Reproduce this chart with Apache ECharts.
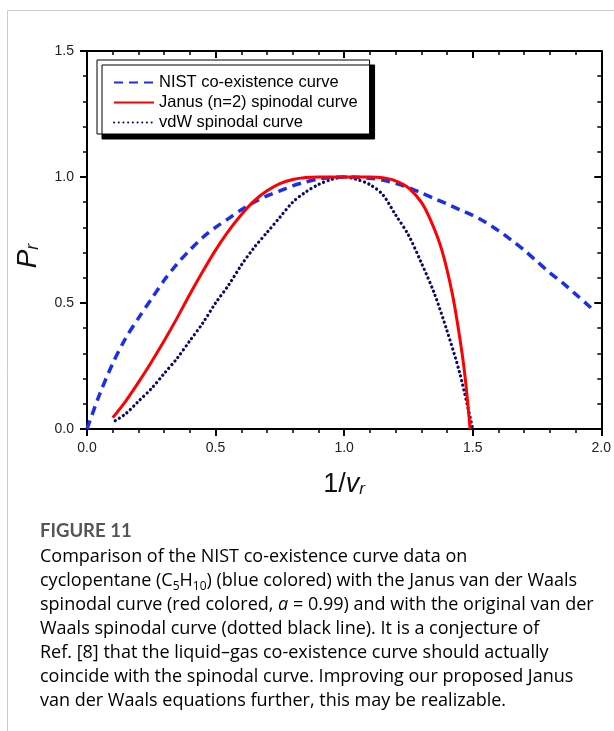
<!DOCTYPE html>
<html lang="en">
<head>
    <meta charset="UTF-8">
    <title>Figure 11</title>
    <script src="https://cdn.jsdelivr.net/npm/echarts@6/dist/echarts.min.js"></script>
    <style>
        html, body { margin: 0; padding: 0; background: #fff; }
        #chart { width: 614px; height: 731px; }
    </style>
</head>
<body>
<div id="chart"></div>
<script>
    // NIST co-existence curve
    const nistX = [0, 0.05, 0.1, 0.15, 0.2, 0.25, 0.3, 0.35, 0.4, 0.45, 0.5, 0.55, 0.6, 0.65, 0.7, 0.75, 0.8, 0.85, 0.9, 0.95, 1.0,
        1.05, 1.1, 1.15, 1.2, 1.25, 1.3, 1.35, 1.4, 1.45, 1.5, 1.55, 1.6, 1.65, 1.7, 1.75, 1.8, 1.85, 1.9, 1.95, 1.97];
    const nistP = [0, 0.14, 0.26, 0.36, 0.44, 0.515, 0.59, 0.655, 0.71, 0.76, 0.80, 0.835, 0.87, 0.90, 0.925, 0.945, 0.965, 0.98, 0.992, 0.998, 1.0,
        0.999, 0.995, 0.988, 0.975, 0.958, 0.937, 0.915, 0.893, 0.87, 0.848, 0.82, 0.787, 0.75, 0.71, 0.665, 0.62, 0.58, 0.535, 0.49, 0.47];

    // Janus (n=2) spinodal curve
    const janusX = [0.1, 0.15, 0.2, 0.25, 0.3, 0.35, 0.4, 0.45, 0.5, 0.55, 0.6, 0.65, 0.7, 0.75, 0.8, 0.85, 0.9, 1.0, 1.1, 1.15,
        1.2, 1.25, 1.3, 1.34, 1.38, 1.42, 1.45, 1.47, 1.49];
    const janusP = [0.045, 0.11, 0.185, 0.265, 0.35, 0.44, 0.535, 0.625, 0.71, 0.785, 0.85, 0.905, 0.945, 0.974, 0.99, 0.998, 1.0, 1.0, 1.0, 0.997,
        0.985, 0.957, 0.90, 0.82, 0.71, 0.54, 0.36, 0.21, 0.0];

    // vdW spinodal curve
    const vdwX = [0.11, 0.15, 0.2, 0.25, 0.3, 0.35, 0.4, 0.45, 0.5, 0.55, 0.6, 0.65, 0.7, 0.75, 0.8, 0.85, 0.9, 0.95, 1.0,
        1.05, 1.1, 1.15, 1.2, 1.25, 1.3, 1.35, 1.4, 1.45, 1.5];
    const vdwP = [0.033, 0.06, 0.11, 0.16, 0.22, 0.28, 0.35, 0.42, 0.50, 0.57, 0.65, 0.72, 0.78, 0.84, 0.90, 0.94, 0.97, 0.99, 1.0,
        0.99, 0.97, 0.93, 0.85, 0.77, 0.66, 0.54, 0.39, 0.22, 0.0];

    const seriesNames = ['NIST co-existence curve', 'Janus (n=2) spinodal curve', 'vdW spinodal curve'];

    const captionTitle = 'FIGURE 11';
    const captionLines = [
        '{t|Comparison of the NIST co-existence curve data on}',
        '{t|cyclopentane (C}{s|5}{t|H}{s|10}{t|) (blue colored) with the Janus van der Waals}',
        '{t|spinodal curve (red colored, }{i|a}{t| = 0.99) and with the original van der}',
        '{t|Waals spinodal curve (dotted black line). It is a conjecture of}',
        '{t|Ref. [}{l|8}{t|] that the liquid\u2013gas co-existence curve should actually}',
        '{t|coincide with the spinodal curve. Improving our proposed Janus}',
        '{t|van der Waals equations further, this may be realizable.}'
    ];

    function pairs(xs, ys) {
        return xs.map(function (x, i) { return [x, ys[i]]; });
    }

    let chart = echarts.init(document.getElementById('chart'));

    const tickFont = { color: '#222', fontSize: 14, fontFamily: 'Liberation Sans, Arial, sans-serif' };

    function axisBase(pos, showLabel, inside, min, max, margin) {
        return {
            type: 'value',
            position: pos,
            min: min,
            max: max,
            interval: 0.5,
            axisLine: { show: true, onZero: false, lineStyle: { color: '#000', width: 2 } },
            axisTick: { show: true, inside: inside, length: 7, lineStyle: { color: '#000', width: 2 } },
            minorTick: { show: true, splitNumber: 5, length: 4, lineStyle: { color: '#000', width: 1.5 } },
            splitLine: { show: false },
            minorSplitLine: { show: false },
            axisLabel: Object.assign({ show: showLabel, margin: margin, formatter: function (v) { return v.toFixed(1); } }, tickFont)
        };
    }

    const capFont = 'Open Sans, sans-serif';
    const captionText = {
        t: { fontSize: 18, fontFamily: capFont, color: '#6a6a6a', lineHeight: 24 },
        s: { fontSize: 12, fontFamily: capFont, color: '#6a6a6a', lineHeight: 24, verticalAlign: 'bottom' },
        i: { fontSize: 18, fontFamily: capFont, fontStyle: 'italic', color: '#6a6a6a', lineHeight: 24 },
        l: { fontSize: 18, fontFamily: capFont, color: '#4b4bb0', lineHeight: 24 }
    };

    let graphics = [
        {
            type: 'rect',
            silent: true,
            shape: { x: 7.5, y: 10.5, width: 700, height: 800 },
            style: { fill: 'none', stroke: '#cccccc', lineWidth: 1 }
        },
        {
            type: 'text',
            left: 40,
            top: 522,
            style: { text: captionTitle, fontSize: 18.5, fontWeight: 'bold', fontFamily: 'Lato, sans-serif', fill: '#555' }
        },
        {
            type: 'text',
            left: 40,
            top: 545,
            style: { text: captionLines.join('\n'), rich: captionText, lineHeight: 24 }
        }
    ];

    let option = {
        animation: false,
        backgroundColor: '#fff',
        grid: { left: 87, right: 11, top: 51, bottom: 302 },
        legend: {
            orient: 'vertical',
            left: 97,
            top: 60,
            padding: [13, 12, 2, 16],
            itemWidth: 40,
            itemHeight: 12,
            itemGap: 1,
            backgroundColor: '#fff',
            borderColor: '#000',
            borderWidth: 1,
            borderRadius: 0,
            shadowColor: '#000',
            shadowBlur: 0,
            shadowOffsetX: 5,
            shadowOffsetY: 5,
            itemStyle: { opacity: 0 },
            textStyle: { color: '#000', fontSize: 16.5, fontFamily: 'Liberation Sans, Arial, sans-serif', lineHeight: 19 },
            data: seriesNames
        },
        xAxis: [
            Object.assign(axisBase('bottom', true, false, 0, 2, 12), {
                name: '{n|1/}{i|v}{s|r}',
                nameLocation: 'middle',
                nameGap: 42,
                nameTextStyle: {
                    rich: {
                        n: { fontSize: 27, fontFamily: 'Liberation Sans, Arial, sans-serif', color: '#111' },
                        i: { fontSize: 27, fontStyle: 'italic', fontFamily: 'Liberation Sans, Arial, sans-serif', color: '#111' },
                        s: { fontSize: 17, fontStyle: 'italic', fontFamily: 'Liberation Sans, Arial, sans-serif', color: '#111', padding: [10, 0, 0, 0] }
                    }
                }
            }),
            axisBase('top', false, true, 0, 2, 8)
        ],
        yAxis: [
            Object.assign(axisBase('left', true, false, 0, 1.5, 13), {
                name: '{i|P}{s|r}',
                nameLocation: 'middle',
                nameGap: 45,
                nameTextStyle: {
                    padding: [0, 32, 0, 0],
                    rich: {
                        i: { fontSize: 28, fontStyle: 'italic', fontFamily: 'Liberation Sans, Arial, sans-serif', color: '#111' },
                        s: { fontSize: 18, fontStyle: 'italic', fontFamily: 'Liberation Sans, Arial, sans-serif', color: '#111', padding: [10, 0, 0, 0] }
                    }
                }
            }),
            axisBase('right', false, true, 0, 1.5, 8)
        ],
        series: [
            {
                name: seriesNames[0],
                type: 'line',
                data: pairs(nistX, nistP),
                smooth: 0.3,
                showSymbol: false,
                symbol: 'none',
                itemStyle: { color: '#1a2ef0' },
                lineStyle: { color: '#1a2ef0', width: 3.5, type: [9, 6] },
                z: 3
            },
            {
                name: seriesNames[1],
                type: 'line',
                data: pairs(janusX, janusP),
                smooth: 0.3,
                showSymbol: false,
                symbol: 'none',
                itemStyle: { color: '#ff0000' },
                lineStyle: { color: '#ff0000', width: 3 },
                z: 4
            },
            {
                name: seriesNames[2],
                type: 'line',
                data: pairs(vdwX, vdwP),
                smooth: 0.3,
                showSymbol: false,
                symbol: 'none',
                itemStyle: { color: '#0a0a66' },
                lineStyle: { color: '#0a0a66', width: 3.2, type: [0.1, 4.6], cap: 'round' },
                z: 2
            }
        ],
        graphic: graphics
    };

    chart.setOption(option);
</script>
</body>
</html>
